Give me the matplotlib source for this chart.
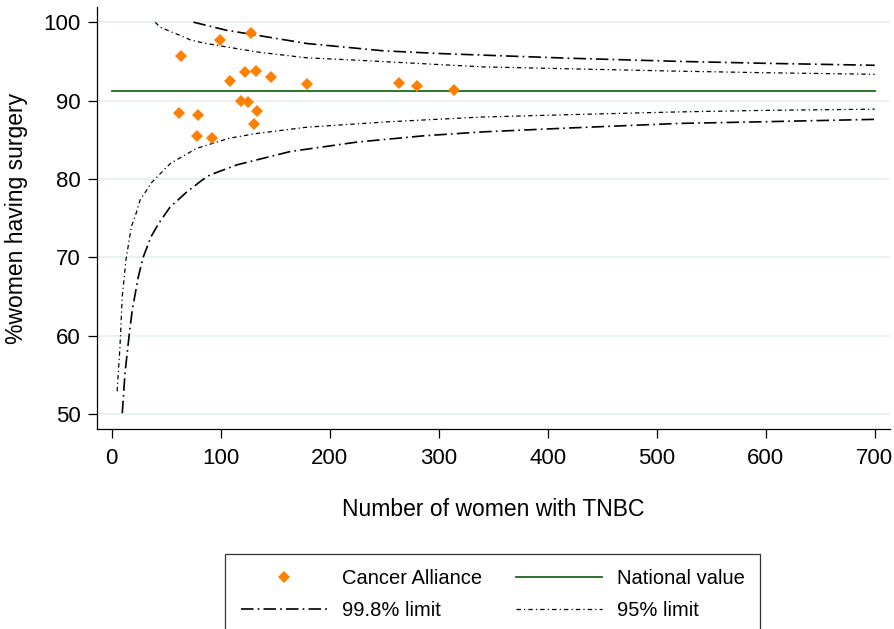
import numpy as np
import matplotlib
matplotlib.use("Agg")
import matplotlib.pyplot as plt
from matplotlib.lines import Line2D

plt.rcParams["font.family"] = ["Liberation Sans", "DejaVu Sans"]

# Cancer Alliances: number of women with TNBC and % having surgery
alliance_n = [128, 99, 64, 108.5, 122, 132, 146, 179, 264, 280, 314,
              118.6, 125.3, 133, 62, 79, 131, 78, 92]
alliance_pct = [98.56, 97.7, 95.66, 92.47, 93.6, 93.75, 93.03, 92.1, 92.27, 91.8, 91.3,
                90.0, 89.8, 88.7, 88.4, 88.1, 87.03, 85.5, 85.2]

national_value = 91.2
national_n = [0, 700]

# funnel limits
upper95_n = [40, 44, 54, 63, 72, 84, 105, 136, 179, 225, 286, 340, 420, 520, 600, 700]
upper95_pct = [100, 99.4, 98.8, 98.3, 97.75, 97.35, 96.85, 96.15, 95.45, 95.15,
               94.7, 94.3, 94.05, 93.75, 93.55, 93.35]

lower95_n = [5, 7.6, 9.7, 13, 18, 21.5, 26, 37, 54, 78, 108, 133, 179, 255, 340,
             420, 520, 600, 700]
lower95_pct = [52.9, 58.6, 65, 69.6, 73.9, 75.2, 77.3, 79.6, 82.0, 83.9, 85.2, 85.8,
               86.6, 87.3, 87.9, 88.2, 88.55, 88.75, 88.9]

upper998_n = [75, 105, 133, 179, 249, 301, 340, 420, 520, 600, 700]
upper998_pct = [100, 98.98, 98.34, 97.28, 96.35, 96.0, 95.8, 95.4, 95.0, 94.75, 94.5]

lower998_n = [9.7, 12.2, 16.2, 18.9, 24.4, 29, 36, 43, 53.5, 69, 83, 90, 115, 164,
              225, 286, 340, 420, 520, 600, 700]
lower998_pct = [50.1, 55.2, 60.3, 63.3, 67.5, 70.05, 72.6, 74.3, 76.4, 78.35, 79.85,
                80.5, 81.8, 83.5, 84.7, 85.5, 86.0, 86.5, 87.08, 87.3, 87.6]

orange = "#ff8000"
green = "#1a6b1a"
ls998 = (0, (7.5, 2.5, 1.0, 2.5))
ls95 = (0, (3.5, 2.5, 1.0, 2.5))

fig = plt.figure(figsize=(8.95, 6.29), dpi=100)
ax = fig.add_axes([0.108, 0.3175, 0.8864, 0.6709])

ax.plot(upper998_n, upper998_pct, color="black", lw=1.2, linestyle=ls998)
ax.plot(lower998_n, lower998_pct, color="black", lw=1.2, linestyle=ls998)
ax.plot(upper95_n, upper95_pct, color="black", lw=0.9, linestyle=ls95)
ax.plot(lower95_n, lower95_pct, color="black", lw=0.9, linestyle=ls95)
ax.plot(national_n, [national_value, national_value], color=green, lw=1.3)
ax.plot(alliance_n, alliance_pct, linestyle="none", marker="D", markersize=6,
        color=orange, markeredgewidth=0)

ax.set_xlim(-13.8, 714)
ax.set_ylim(48.05, 101.9)
ax.set_xticks(np.arange(0, 701, 100))
ax.set_yticks(np.arange(50, 101, 10))
ax.grid(True, axis="y", color="#e6eff1", lw=1.2)
ax.set_axisbelow(True)
for side in ["top", "right"]:
    ax.spines[side].set_visible(False)
for side in ["left", "bottom"]:
    ax.spines[side].set_linewidth(0.9)
ax.tick_params(axis="both", labelsize=16, length=6.5, width=0.9)
ax.tick_params(axis="x", pad=7)
ax.tick_params(axis="y", pad=5)

ax.set_xlabel("Number of women with TNBC", fontsize=16.5, labelpad=21)
ax.set_ylabel("%women having surgery", fontsize=16.5, labelpad=11)

handles = [
    Line2D([], [], linestyle="none", marker="D", markersize=6, color=orange,
           markeredgewidth=0),
    Line2D([], [], color="black", lw=1.2, linestyle=ls998),
    Line2D([], [], color=green, lw=1.3),
    Line2D([], [], color="black", lw=0.9, linestyle=ls95),
]
labels = ["Cancer Alliance", "99.8% limit", "National value", "95% limit"]
leg = fig.legend(handles, labels, ncol=2, loc="upper center",
                 bbox_to_anchor=(0.5507, 0.1192), fontsize=14.5, frameon=True,
                 fancybox=False, edgecolor="black", handlelength=4.3,
                 handletextpad=0.75, columnspacing=1.65, labelspacing=0.65,
                 borderpad=0.75, borderaxespad=0)
leg.get_frame().set_linewidth(0.9)

plt.savefig("out.png", dpi=100)
